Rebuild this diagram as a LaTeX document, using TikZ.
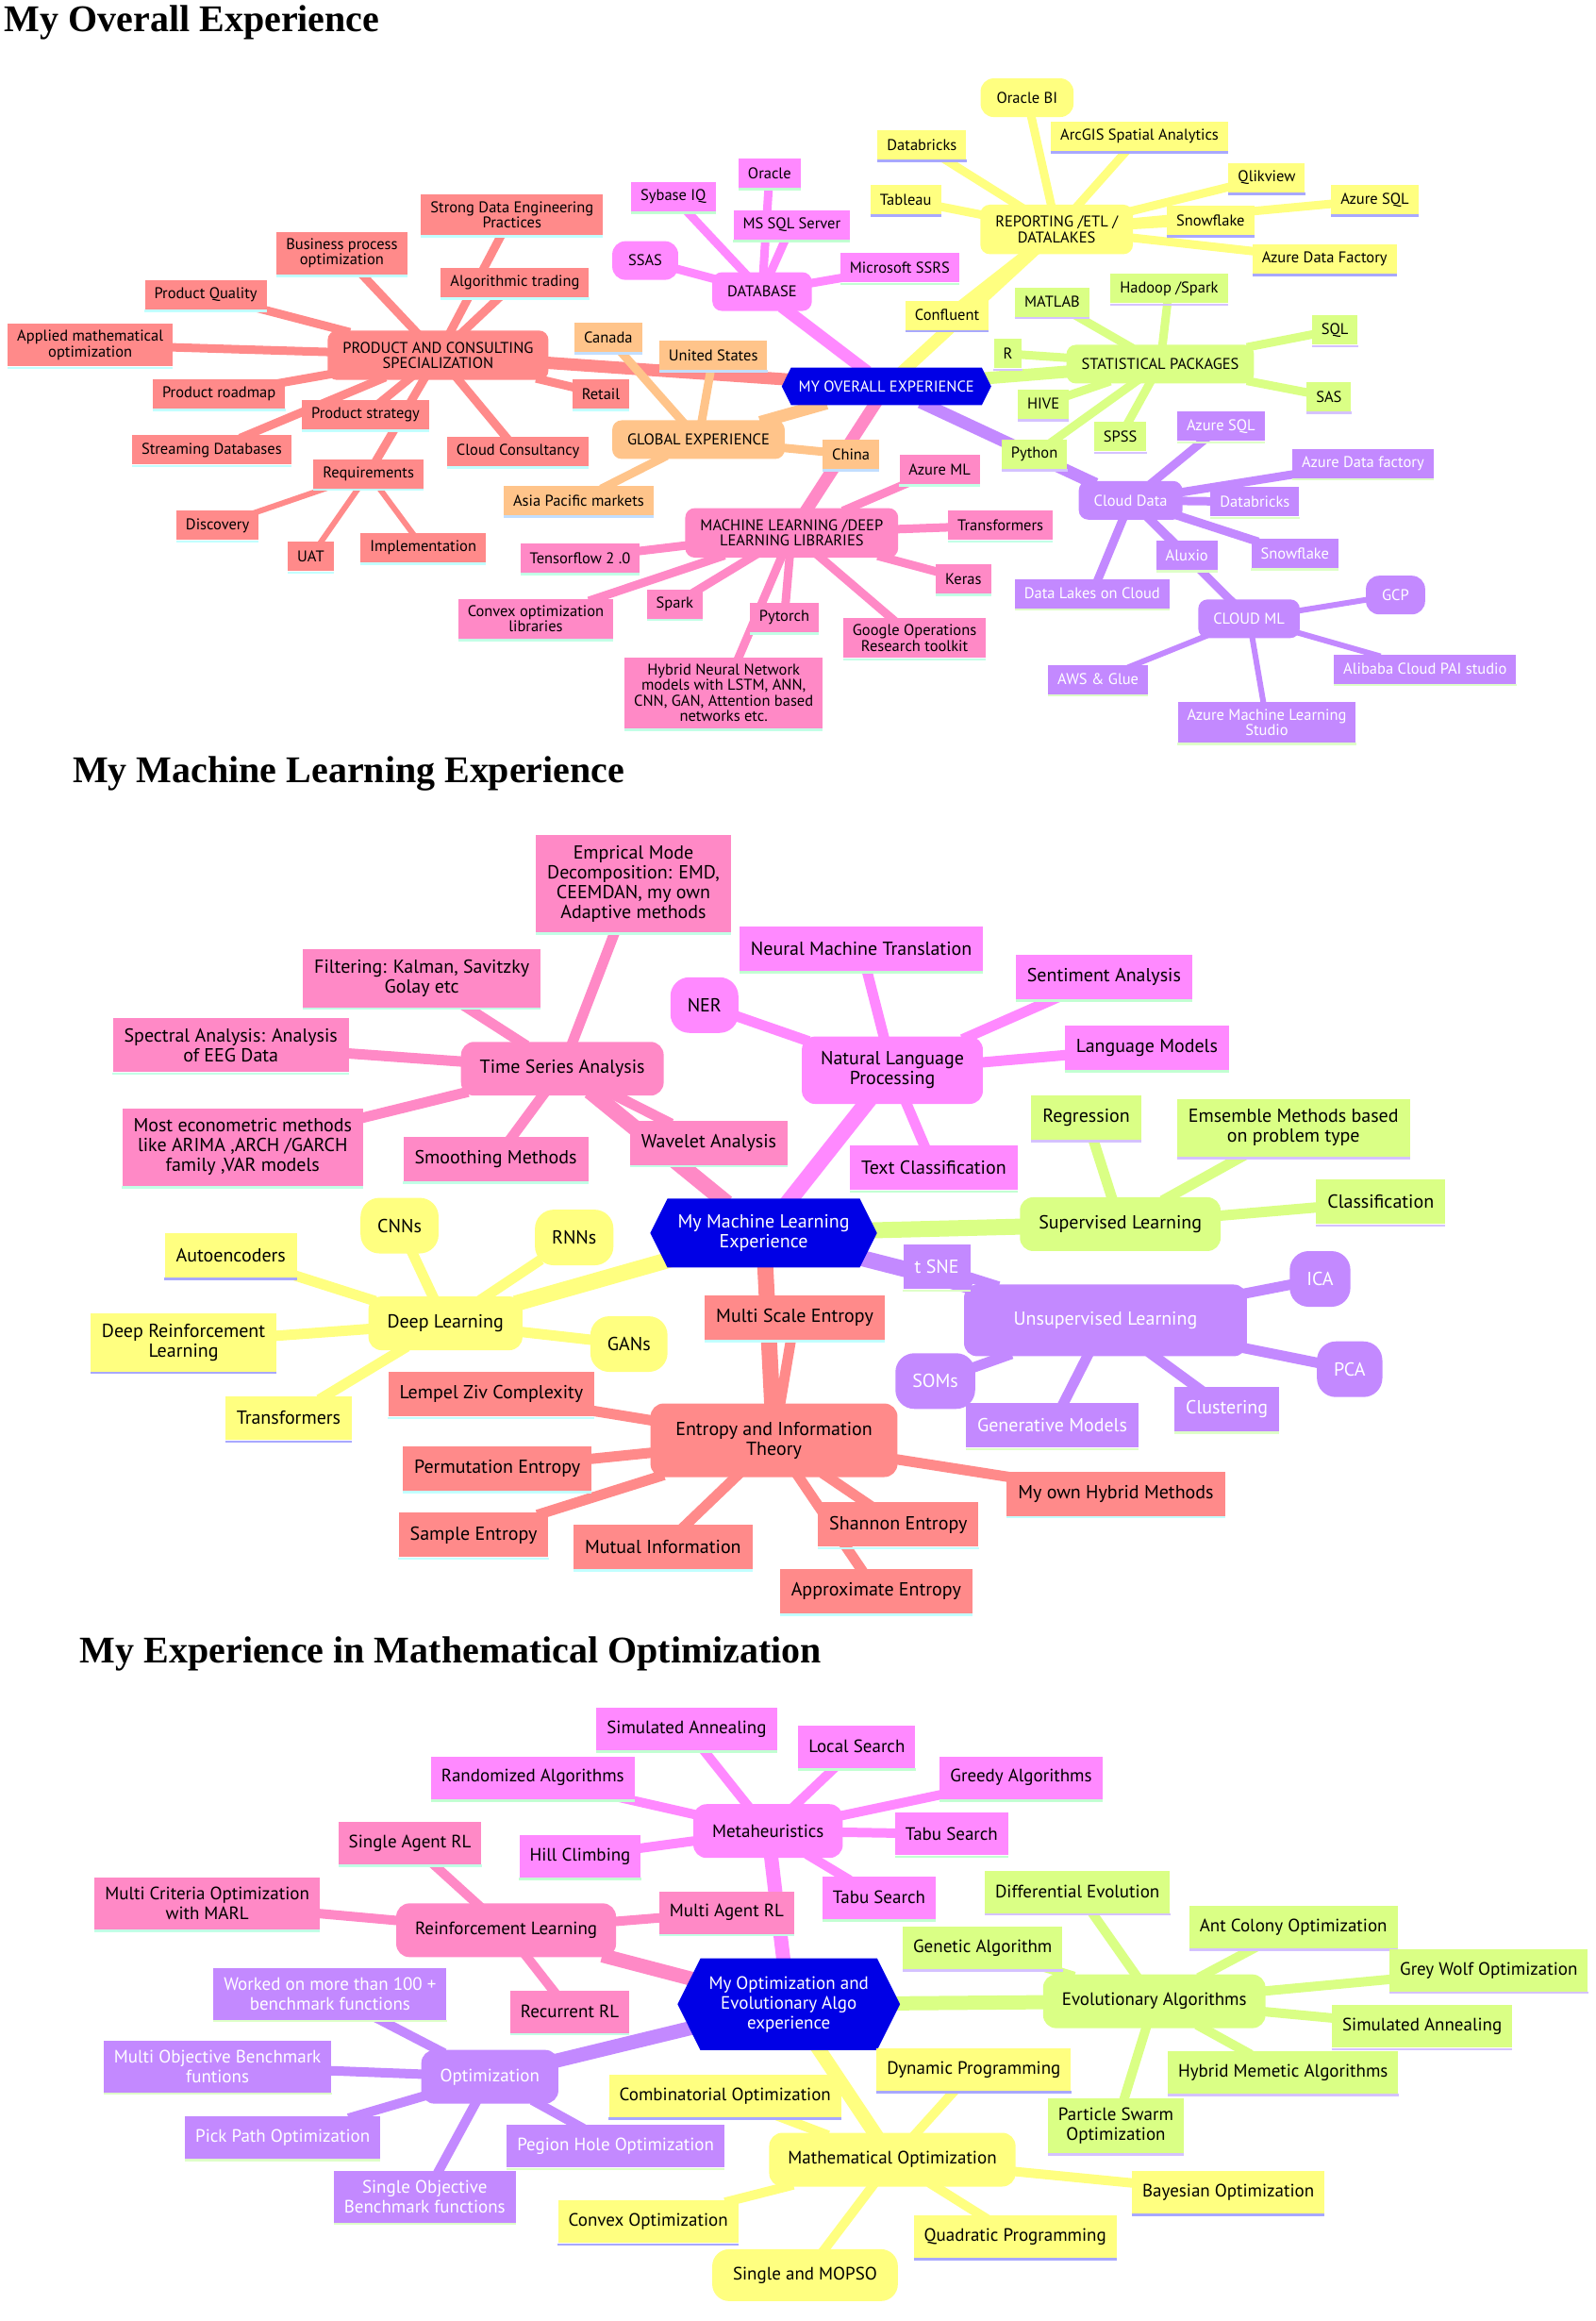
\documentclass[tikz,border=0pt]{standalone}
\usepackage{fontspec}
\setmainfont{PT Sans}
\newfontfamily\titlefont{Liberation Serif}
\usetikzlibrary{shapes.symbols}
\usetikzlibrary{backgrounds}

\definecolor{cRed}{HTML}{FF8A8A}
\definecolor{lRed}{HTML}{C2FFFF}
\definecolor{cOra}{HTML}{FFC48A}
\definecolor{lOra}{HTML}{C2DEFF}
\definecolor{cYel}{HTML}{FFFF80}
\definecolor{lYel}{HTML}{A8A8FF}
\definecolor{cGre}{HTML}{DAFF85}
\definecolor{lGre}{HTML}{D4C2FF}
\definecolor{cPur}{HTML}{C389FF}
\definecolor{lPur}{HTML}{DEFFC8}
\definecolor{cMag}{HTML}{FF89FF}
\definecolor{lMag}{HTML}{C2FFD2}
\definecolor{cPin}{HTML}{FF89C6}
\definecolor{lPin}{HTML}{C2FFE6}
\definecolor{cRoot}{HTML}{0000E6}
\colorlet{tRed}{black}
\colorlet{tOra}{black}
\colorlet{tYel}{black}
\colorlet{tGre}{black}
\colorlet{tMag}{black}
\colorlet{tPin}{black}
\colorlet{tPur}{white}

\begin{document}
\begin{tikzpicture} [
        x=1.5696pt, y=-1.5696pt,
        leafsize/.style={}, hubsize/.style={}, bubblesize/.style={}, rootsize/.style={},
        leaf/.style={rectangle, fill=c#1, text=t#1, align=center, leafsize,
            append after command={([yshift=-1.3pt]\tikzlastnode.south west) edge[draw=l#1, line width=2.6pt] ([yshift=-1.3pt]\tikzlastnode.south east)}},
        hub/.style={rectangle, fill=c#1, text=t#1, align=center, hubsize},
        bubble/.style={rectangle, fill=c#1, text=t#1, align=center, bubblesize},
        root/.style={signal, signal to=east and west, signal pointer angle=127, fill=cRoot, text=white, align=center, rootsize},
        title/.style={anchor=west, inner sep=0pt, font=\titlefont\bfseries\fontsize{40}{40}\selectfont},
        link/.style={line width=#1, shorten <=-8pt, shorten >=-8pt} ]
    \useasboundingbox (0,0) rectangle (1078,1568);

    \node[title] (head1) at (3,15) {My Overall Experience};
    \node[title] (head2) at (49,523) {My Machine Learning Experience};
    \node[title] (head3) at (54,1117) {My Experience in Mathematical Optimization};

    \begin{scope}[every node/.append style={font=\fontsize{16.5}{16.5}\selectfont},
        leafsize/.style={inner xsep=10pt, inner ysep=7pt, minimum height=31pt},
        hubsize/.style={inner xsep=16pt, inner ysep=12pt, minimum height=41pt, rounded corners=10pt},
        bubblesize/.style={inner xsep=17pt, inner ysep=12pt, minimum height=41pt, rounded corners=14pt},
        rootsize/.style={inner xsep=8pt, inner ysep=14pt}]
    \node[root] (overall) at (599,261) {MY OVERALL EXPERIENCE};

    \node[hub=Red] (product) at (296,240) {PRODUCT AND CONSULTING\\SPECIALIZATION};
    \node[leaf=Red] (dataeng) at (346,145) {Strong Data Engineering\\Practices};
    \node[leaf=Red] (bizproc) at (231,171) {Business process\\optimization};
    \node[leaf=Red] (algotrade) at (348,191) {Algorithmic trading};
    \node[leaf=Red] (quality) at (139,199) {Product Quality};
    \node[leaf=Red] (appmath) at (61,233) {Applied mathematical\\optimization};
    \node[leaf=Red] (roadmap) at (148,266) {Product roadmap};
    \node[leaf=Red] (strategy) at (247,280) {Product strategy};
    \node[leaf=Red] (streaming) at (143,304) {Streaming Databases};
    \node[leaf=Red] (cloudcons) at (350,305) {Cloud Consultancy};
    \node[leaf=Red] (retail) at (406,266) {Retail};
    \node[leaf=Red] (reqs) at (249,320) {Requirements};
    \node[leaf=Red] (discovery) at (147,355) {Discovery};
    \node[leaf=Red] (uat) at (210,376) {UAT};
    \node[leaf=Red] (implement) at (286,370) {Implementation};

    \node[hub=Mag] (database) at (515,197) {DATABASE};
    \node[bubble=Mag] (ssas) at (436,176) {SSAS};
    \node[leaf=Mag] (sybase) at (455,133) {Sybase IQ};
    \node[leaf=Mag] (oracle) at (520,117) {Oracle};
    \node[leaf=Mag] (mssql) at (535,152) {MS SQL Server};
    \node[leaf=Mag] (ssrs) at (608,181) {Microsoft SSRS};

    \node[hub=Yel] (reporting) at (714,155) {REPORTING /ETL /\\DATALAKES};
    \node[bubble=Yel] (oraclebi) at (694,66) {Oracle BI};
    \node[leaf=Yel] (databricks) at (623,98) {Databricks};
    \node[leaf=Yel] (arcgis) at (770,92) {ArcGIS Spatial Analytics};
    \node[leaf=Yel] (tableau) at (612,135) {Tableau};
    \node[leaf=Yel] (qlikview) at (856,120) {Qlikview};
    \node[leaf=Yel] (azsql) at (929,135) {Azure SQL};
    \node[leaf=Yel] (snowflake) at (818,149) {Snowflake};
    \node[leaf=Yel] (adf) at (895,175) {Azure Data Factory};
    \node[leaf=Yel] (confluent) at (640,213) {Confluent};

    \node[hub=Gre] (statpkg) at (784,246) {STATISTICAL PACKAGES};
    \node[leaf=Gre] (matlab) at (711,204) {MATLAB};
    \node[leaf=Gre] (hadoop) at (790,195) {Hadoop /Spark};
    \node[leaf=Gre] (sqlpkg) at (902,223) {SQL};
    \node[leaf=Gre] (rlang) at (681,239) {R};
    \node[leaf=Gre] (sas) at (898,268) {SAS};
    \node[leaf=Gre] (hive) at (705,273) {HIVE};
    \node[leaf=Gre] (spss) at (757,295) {SPSS};
    \node[leaf=Gre] (python) at (699,307) {Python};

    \node[hub=Pur] (clouddata) at (764,338) {Cloud Data};
    \node[leaf=Pur] (cazsql) at (825,288) {Azure SQL};
    \node[leaf=Pur] (cadf) at (921,313) {Azure Data factory};
    \node[leaf=Pur] (cdatabricks) at (848,339) {Databricks};
    \node[leaf=Pur] (csnow) at (875,374) {Snowflake};
    \node[leaf=Pur] (aluxio) at (802,375) {Aluxio};
    \node[leaf=Pur] (datalakes) at (738,401) {Data Lakes on Cloud};
    \node[hub=Pur] (cloudml) at (844,418) {CLOUD ML};
    \node[bubble=Pur] (gcp) at (943,402) {GCP};
    \node[leaf=Pur] (alibaba) at (963,452) {Alibaba Cloud PAI studio};
    \node[leaf=Pur] (azmlstudio) at (856,488) {Azure Machine Learning\\Studio};
    \node[leaf=Pur] (awsglue) at (742,459) {AWS \& Glue};

    \node[hub=Pin] (mllibs) at (535,360) {MACHINE LEARNING /DEEP\\LEARNING LIBRARIES};
    \node[leaf=Pin] (azureml) at (635,317) {Azure ML};
    \node[leaf=Pin] (mltransf) at (676,355) {Transformers};
    \node[leaf=Pin] (keras) at (651,391) {Keras};
    \node[leaf=Pin] (googleor) at (618,431) {Google Operations\\Research toolkit};
    \node[leaf=Pin] (pytorch) at (530,417) {Pytorch};
    \node[leaf=Pin] (hybridnn) at (489,468) {Hybrid Neural Network\\models with LSTM, ANN,\\CNN, GAN, Attention based\\networks etc.};
    \node[leaf=Pin] (spark) at (456,408) {Spark};
    \node[leaf=Pin] (convexlib) at (362,418) {Convex optimization\\libraries};
    \node[leaf=Pin] (tensorflow) at (392,377) {Tensorflow 2 .0};

    \node[hub=Ora] (global) at (472,297) {GLOBAL EXPERIENCE};
    \node[leaf=Ora] (canada) at (411,228) {Canada};
    \node[leaf=Ora] (usa) at (482,240) {United States};
    \node[leaf=Ora] (china) at (575,307) {China};
    \node[leaf=Ora] (asia) at (391,338) {Asia Pacific markets};

    \begin{pgfonlayer}{background}
    \draw[link=13pt, cRed] (overall) -- (product);
    \draw[link=13pt, cMag] (overall) -- (database);
    \draw[link=13pt, cYel] (overall) -- (reporting);
    \draw[link=13pt, cGre] (overall) -- (statpkg);
    \draw[link=13pt, cPur] (overall) -- (clouddata);
    \draw[link=13pt, cPin] (overall) -- (mllibs);
    \draw[link=13pt, cOra] (overall) -- (global);
    \draw[link=9pt, cRed] (product) edge (dataeng) edge (bizproc) edge (algotrade) edge (quality) edge (appmath) edge (roadmap) edge (strategy) edge (streaming) edge (cloudcons) edge (retail) edge (reqs);
    \draw[link=6pt, cRed] (reqs) edge (discovery) edge (uat) edge (implement);
    \draw[link=9pt, cMag] (database) edge (ssas) edge (sybase) edge (oracle) edge (mssql) edge (ssrs);
    \draw[link=9pt, cYel] (reporting) edge (oraclebi) edge (databricks) edge (arcgis) edge (tableau) edge (qlikview) edge (azsql) edge (snowflake) edge (adf) edge (confluent);
    \draw[link=9pt, cGre] (statpkg) edge (matlab) edge (hadoop) edge (sqlpkg) edge (rlang) edge (sas) edge (hive) edge (spss) edge (python);
    \draw[link=9pt, cPur] (clouddata) edge (cazsql) edge (cadf) edge (cdatabricks) edge (csnow) edge (aluxio) edge (datalakes) edge (cloudml);
    \draw[link=6pt, cPur] (cloudml) edge (gcp) edge (alibaba) edge (azmlstudio) edge (awsglue);
    \draw[link=9pt, cPin] (mllibs) edge (azureml) edge (mltransf) edge (keras) edge (googleor) edge (pytorch) edge (hybridnn) edge (spark) edge (convexlib) edge (tensorflow);
    \draw[link=9pt, cOra] (global) edge (canada) edge (usa) edge (china) edge (asia);
    \end{pgfonlayer}
    \end{scope}

    \begin{scope}[every node/.append style={font=\fontsize{20}{21}\selectfont},
        leafsize/.style={inner xsep=12pt, inner ysep=11pt, minimum height=47pt},
        hubsize/.style={inner xsep=20pt, inner ysep=16pt, minimum height=57pt, rounded corners=14pt},
        bubblesize/.style={inner xsep=18pt, inner ysep=16pt, minimum height=59pt, rounded corners=20pt},
        rootsize/.style={inner xsep=11pt, inner ysep=17pt}]
    \node[root] (mlexp) at (516,833) {My Machine Learning\\Experience};

    \node[hub=Pin] (timeseries) at (380,722) {Time Series Analysis};
    \node[leaf=Pin] (emd) at (428,597) {Emprical Mode\\Decomposition: EMD,\\CEEMDAN, my own\\Adaptive methods};
    \node[leaf=Pin] (filtering) at (285,661) {Filtering: Kalman, Savitzky\\Golay etc};
    \node[leaf=Pin] (spectral) at (156,706) {Spectral Analysis: Analysis\\of EEG Data};
    \node[leaf=Pin] (econometric) at (164,775) {Most econometric methods\\like ARIMA ,ARCH /GARCH\\family ,VAR models};
    \node[leaf=Pin] (smoothing) at (335,783) {Smoothing Methods};
    \node[leaf=Pin] (wavelet) at (479,772) {Wavelet Analysis};

    \node[hub=Mag] (nlp) at (603,723) {Natural Language\\Processing};
    \node[leaf=Mag] (nmt) at (582,641) {Neural Machine Translation};
    \node[bubble=Mag] (ner) at (476,679) {NER};
    \node[leaf=Mag] (sentiment) at (746,660) {Sentiment Analysis};
    \node[leaf=Mag] (langmodels) at (775,708) {Language Models};
    \node[leaf=Mag] (textclass) at (631,789) {Text Classification};

    \node[hub=Gre] (supervised) at (757,827) {Supervised Learning};
    \node[leaf=Gre] (regression) at (734,755) {Regression};
    \node[leaf=Gre] (ensemble) at (874,762) {Emsemble Methods based\\on problem type};
    \node[leaf=Gre] (classification) at (933,812) {Classification};

    \node[hub=Pur, minimum width=300pt, minimum height=76pt] (unsupervised) at (747,892) {Unsupervised Learning};
    \node[leaf=Pur] (tsne) at (633,856) {t SNE};
    \node[bubble=Pur] (ica) at (892,864) {ICA};
    \node[bubble=Pur] (pca) at (912,925) {PCA};
    \node[leaf=Pur] (clustering) at (829,952) {Clustering};
    \node[leaf=Pur] (generative) at (711,963) {Generative Models};
    \node[bubble=Pur] (soms) at (632,933) {SOMs};

    \node[hub=Yel] (deeplearning) at (301,894) {Deep Learning};
    \node[bubble=Yel] (cnns) at (270,828) {CNNs};
    \node[bubble=Yel] (rnns) at (388,836) {RNNs};
    \node[leaf=Yel] (autoenc) at (156,848) {Autoencoders};
    \node[leaf=Yel] (deeprl) at (124,907) {Deep Reinforcement\\Learning};
    \node[bubble=Yel] (gans) at (425,908) {GANs};
    \node[leaf=Yel] (dltransf) at (195,958) {Transformers};

    \node[hub=Red, minimum width=262pt, minimum height=78pt] (entropy) at (523,973) {Entropy and Information\\Theory};
    \node[leaf=Red] (multiscale) at (537,890) {Multi Scale Entropy};
    \node[leaf=Red] (lempelziv) at (332,942) {Lempel Ziv Complexity};
    \node[leaf=Red] (permutation) at (336,992) {Permutation Entropy};
    \node[leaf=Red] (sampleent) at (320,1037) {Sample Entropy};
    \node[leaf=Red] (mutualinfo) at (448,1045) {Mutual Information};
    \node[leaf=Red] (shannon) at (607,1030) {Shannon Entropy};
    \node[leaf=Red] (approxent) at (592,1075) {Approximate Entropy};
    \node[leaf=Red] (ownhybrid) at (754,1009) {My own Hybrid Methods};

    \begin{pgfonlayer}{background}
    \draw[link=17pt, cPin] (mlexp) -- (timeseries);
    \draw[link=17pt, cMag] (mlexp) -- (nlp);
    \draw[link=17pt, cGre] (mlexp) -- (supervised);
    \draw[link=17pt, cPur] (mlexp) -- (unsupervised);
    \draw[link=17pt, cYel] (mlexp) -- (deeplearning);
    \draw[link=17pt, cRed] (mlexp) -- (entropy);
    \draw[link=11pt, cPin] (timeseries) edge (emd) edge (filtering) edge (spectral) edge (econometric) edge (smoothing) edge (wavelet);
    \draw[link=11pt, cMag] (nlp) edge (nmt) edge (ner) edge (sentiment) edge (langmodels) edge (textclass);
    \draw[link=11pt, cGre] (supervised) edge (regression) edge (ensemble) edge (classification);
    \draw[link=11pt, cPur] (unsupervised) edge (tsne) edge (ica) edge (pca) edge (clustering) edge (generative) edge (soms);
    \draw[link=11pt, cYel] (deeplearning) edge (cnns) edge (rnns) edge (autoenc) edge (deeprl) edge (gans) edge (dltransf);
    \draw[link=11pt, cRed] (entropy) edge (multiscale) edge (lempelziv) edge (permutation) edge (sampleent) edge (mutualinfo) edge (shannon) edge (approxent) edge (ownhybrid);
    \end{pgfonlayer}
    \end{scope}

    \begin{scope}[every node/.append style={font=\fontsize{19}{21}\selectfont},
        leafsize/.style={inner xsep=11pt, inner ysep=10pt, minimum height=45pt},
        hubsize/.style={inner xsep=20pt, inner ysep=15pt, minimum height=57pt, rounded corners=14pt},
        bubblesize/.style={inner xsep=22pt, inner ysep=15pt, minimum height=55pt, rounded corners=18pt},
        rootsize/.style={inner xsep=9pt, inner ysep=19pt}]
    \node[root] (optexp) at (533,1354) {My Optimization and\\Evolutionary Algo\\experience};

    \node[hub=Mag] (metaheur) at (519,1237) {Metaheuristics};
    \node[leaf=Mag] (simanneal) at (464,1168) {Simulated Annealing};
    \node[leaf=Mag] (localsearch) at (579,1180) {Local Search};
    \node[leaf=Mag] (randomized) at (360,1201) {Randomized Algorithms};
    \node[leaf=Mag] (greedy) at (690,1201) {Greedy Algorithms};
    \node[leaf=Mag] (hillclimb) at (392,1254) {Hill Climbing};
    \node[leaf=Mag] (taburight) at (643,1239) {Tabu Search};
    \node[leaf=Mag] (tabulow) at (594,1282) {Tabu Search};

    \node[hub=Pin] (reinforce) at (342,1304) {Reinforcement Learning};
    \node[leaf=Pin] (singleagent) at (277,1245) {Single Agent RL};
    \node[leaf=Pin] (multicrit) at (140,1286) {Multi Criteria Optimization\\with MARL};
    \node[leaf=Pin] (multiagent) at (491,1292) {Multi Agent RL};
    \node[leaf=Pin] (recurrent) at (385,1359) {Recurrent RL};

    \node[hub=Gre] (evolution) at (780,1352) {Evolutionary Algorithms};
    \node[leaf=Gre] (diffevo) at (728,1278) {Differential Evolution};
    \node[leaf=Gre] (genetic) at (664,1316) {Genetic Algorithm};
    \node[leaf=Gre] (antcolony) at (874,1302) {Ant Colony Optimization};
    \node[leaf=Gre] (greywolf) at (1006,1331) {Grey Wolf Optimization};
    \node[leaf=Gre] (evoanneal) at (961,1369) {Simulated Annealing};
    \node[leaf=Gre] (memetic) at (867,1400) {Hybrid Memetic Algorithms};
    \node[leaf=Gre] (pso) at (754,1436) {Particle Swarm\\Optimization};

    \node[hub=Pur] (optimization) at (331,1403) {Optimization};
    \node[leaf=Pur] (benchmarks) at (223,1347) {Worked on more than 100 +\\benchmark functions};
    \node[leaf=Pur] (multiobj) at (147,1396) {Multi Objective Benchmark\\funtions};
    \node[leaf=Pur] (pickpath) at (191,1444) {Pick Path Optimization};
    \node[leaf=Pur] (pegionhole) at (416,1450) {Pegion Hole Optimization};
    \node[leaf=Pur] (singleobj) at (287,1484) {Single Objective\\Benchmark functions};

    \node[hub=Yel] (mathopt) at (603,1459) {Mathematical Optimization};
    \node[leaf=Yel] (dynprog) at (658,1398) {Dynamic Programming};
    \node[leaf=Yel] (combopt) at (490,1416) {Combinatorial Optimization};
    \node[leaf=Yel] (bayesopt) at (830,1481) {Bayesian Optimization};
    \node[leaf=Yel] (quadprog) at (686,1511) {Quadratic Programming};
    \node[leaf=Yel] (convexopt) at (438,1501) {Convex Optimization};
    \node[bubble=Yel] (mopso) at (544,1537) {Single and MOPSO};

    \begin{pgfonlayer}{background}
    \draw[link=15pt, cMag] (optexp) -- (metaheur);
    \draw[link=15pt, cPin] (optexp) -- (reinforce);
    \draw[link=15pt, cGre] (optexp) -- (evolution);
    \draw[link=15pt, cPur] (optexp) -- (optimization);
    \draw[link=15pt, cYel] (optexp) -- (mathopt);
    \draw[link=10pt, cMag] (metaheur) edge (simanneal) edge (localsearch) edge (randomized) edge (greedy) edge (hillclimb) edge (taburight) edge (tabulow);
    \draw[link=10pt, cPin] (reinforce) edge (singleagent) edge (multicrit) edge (multiagent) edge (recurrent);
    \draw[link=10pt, cGre] (evolution) edge (diffevo) edge (genetic) edge (antcolony) edge (greywolf) edge (evoanneal) edge (memetic) edge (pso);
    \draw[link=10pt, cPur] (optimization) edge (benchmarks) edge (multiobj) edge (pickpath) edge (pegionhole) edge (singleobj);
    \draw[link=10pt, cYel] (mathopt) edge (dynprog) edge (combopt) edge (bayesopt) edge (quadprog) edge (convexopt) edge (mopso);
    \end{pgfonlayer}
    \end{scope}
\end{tikzpicture}
\end{document}
